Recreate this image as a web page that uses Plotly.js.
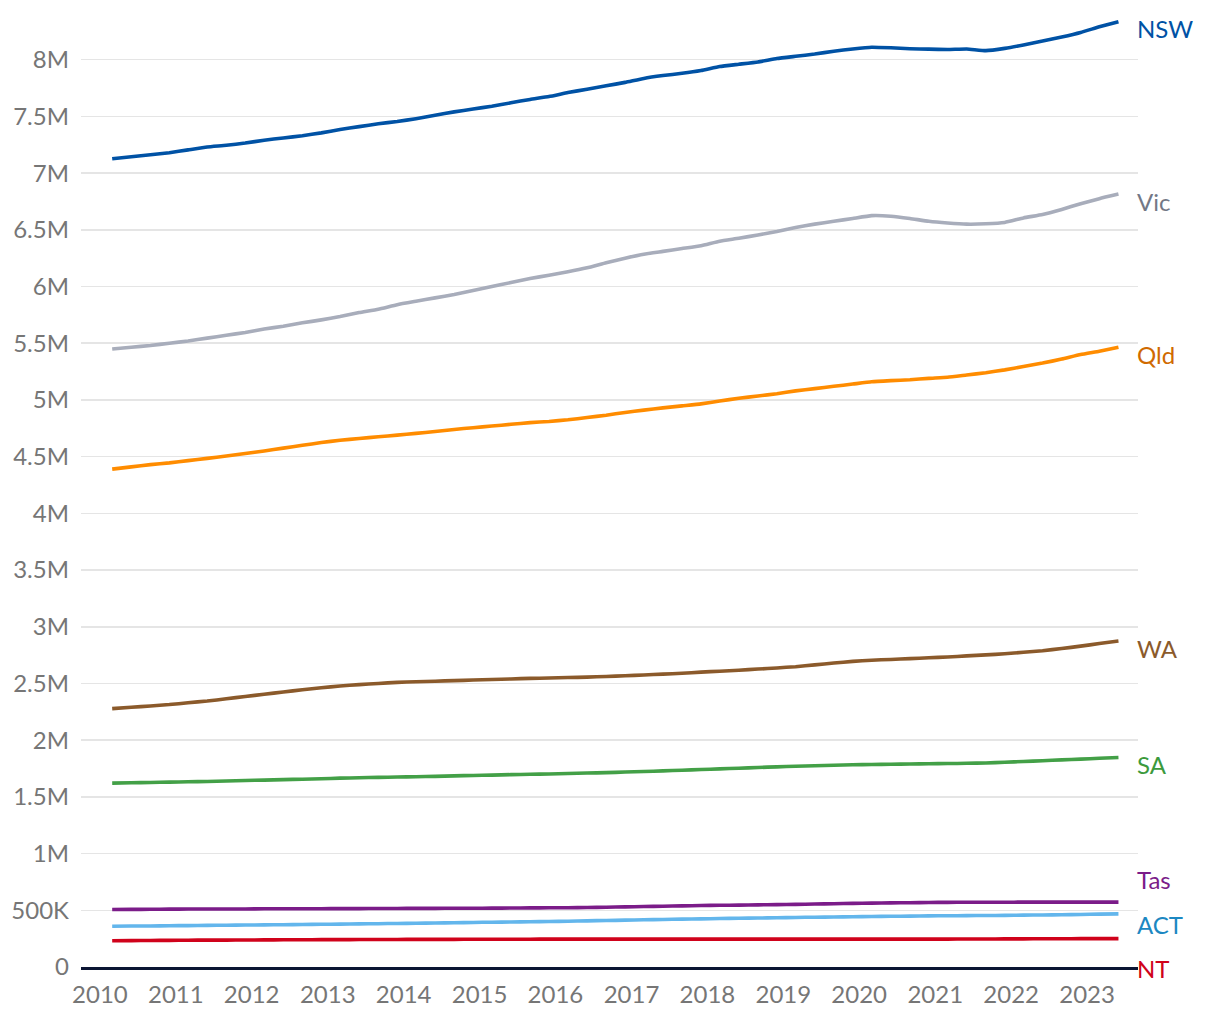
<!DOCTYPE html>
<html>
<head>
<meta charset="utf-8">
<script src="https://cdn.plot.ly/plotly-3.0.1.min.js"></script>
<style>html,body{margin:0;padding:0;background:#fff;}#chart{width:1220px;height:1020px;}</style>
</head>
<body>
<div id="chart"></div>
<script>
// Quarterly periods: Mar 2010 .. Jun 2023
var years = [2010,2011,2012,2013,2014,2015,2016,2017,2018,2019,2020,2021,2022,2023];
var quarterMonths = ['03','06','09','12'];

// Population, millions
var NSW = [7.127,7.145,7.162,7.180,7.205,7.230,7.245,7.265,7.290,7.310,7.330,7.355,7.385,7.410,7.435,7.455,7.480,7.510,7.540,7.565,7.590,7.620,7.650,7.675,7.710,7.740,7.770,7.800,7.835,7.860,7.880,7.905,7.940,7.960,7.980,8.010,8.030,8.050,8.075,8.095,8.110,8.105,8.097,8.093,8.090,8.095,8.080,8.100,8.130,8.165,8.200,8.240,8.290,8.335];
var Vic = [5.449,5.465,5.480,5.500,5.520,5.545,5.570,5.595,5.625,5.650,5.680,5.706,5.735,5.770,5.800,5.840,5.870,5.900,5.930,5.965,6.000,6.035,6.070,6.100,6.130,6.165,6.210,6.250,6.285,6.310,6.335,6.360,6.400,6.425,6.455,6.485,6.520,6.550,6.575,6.600,6.625,6.620,6.600,6.575,6.560,6.550,6.553,6.565,6.605,6.635,6.680,6.730,6.775,6.815];
var Qld = [4.390,4.410,4.430,4.445,4.465,4.485,4.505,4.527,4.550,4.575,4.600,4.624,4.645,4.660,4.675,4.690,4.705,4.722,4.740,4.755,4.770,4.785,4.800,4.810,4.825,4.845,4.865,4.890,4.910,4.930,4.948,4.965,4.990,5.015,5.035,5.055,5.080,5.100,5.120,5.140,5.160,5.170,5.178,5.190,5.200,5.220,5.240,5.265,5.295,5.325,5.360,5.400,5.430,5.465];
var WA = [2.278,2.290,2.302,2.314,2.330,2.345,2.365,2.385,2.405,2.425,2.445,2.462,2.478,2.490,2.500,2.510,2.515,2.520,2.525,2.530,2.535,2.540,2.545,2.548,2.552,2.556,2.562,2.568,2.575,2.582,2.590,2.600,2.608,2.617,2.627,2.637,2.648,2.664,2.680,2.695,2.705,2.712,2.719,2.727,2.734,2.743,2.752,2.762,2.775,2.789,2.808,2.829,2.852,2.874];
var SA = [1.621,1.624,1.627,1.630,1.633,1.636,1.640,1.644,1.648,1.652,1.656,1.660,1.665,1.669,1.672,1.675,1.678,1.681,1.685,1.689,1.692,1.696,1.699,1.702,1.706,1.710,1.714,1.719,1.724,1.729,1.735,1.741,1.747,1.753,1.759,1.765,1.770,1.775,1.779,1.783,1.786,1.788,1.790,1.792,1.794,1.796,1.799,1.805,1.812,1.819,1.826,1.833,1.840,1.847];
var Tas = [0.507,0.508,0.509,0.510,0.511,0.511,0.512,0.512,0.513,0.513,0.514,0.514,0.515,0.515,0.516,0.516,0.517,0.517,0.518,0.518,0.519,0.520,0.521,0.522,0.523,0.525,0.527,0.530,0.533,0.536,0.539,0.542,0.544,0.546,0.548,0.550,0.552,0.555,0.558,0.561,0.563,0.565,0.567,0.569,0.570,0.571,0.571,0.571,0.572,0.572,0.572,0.572,0.572,0.572];
var ACT = [0.359,0.361,0.362,0.364,0.365,0.367,0.368,0.370,0.371,0.373,0.375,0.377,0.378,0.380,0.382,0.384,0.386,0.388,0.390,0.393,0.395,0.397,0.399,0.401,0.404,0.407,0.410,0.413,0.416,0.419,0.422,0.424,0.427,0.430,0.432,0.434,0.437,0.439,0.441,0.443,0.445,0.447,0.449,0.451,0.452,0.453,0.454,0.455,0.457,0.459,0.461,0.463,0.466,0.468];
var NT = [0.232,0.233,0.234,0.235,0.236,0.237,0.237,0.238,0.239,0.240,0.240,0.241,0.241,0.242,0.243,0.243,0.244,0.244,0.244,0.245,0.245,0.245,0.245,0.246,0.246,0.246,0.246,0.246,0.246,0.246,0.246,0.246,0.246,0.246,0.246,0.246,0.246,0.246,0.246,0.246,0.246,0.246,0.246,0.246,0.246,0.247,0.247,0.248,0.248,0.249,0.249,0.250,0.250,0.250];

var yTickVals = [0,0.5,1,1.5,2,2.5,3,3.5,4,4.5,5,5.5,6,6.5,7,7.5,8];
var yTickText = ['0','500K','1M','1.5M','2M','2.5M','3M','3.5M','4M','4.5M','5M','5.5M','6M','6.5M','7M','7.5M','8M'];
var xTickVals = ['2010-01-01','2011-01-01','2012-01-01','2013-01-01','2014-01-01','2015-01-01','2016-01-01','2017-01-01','2018-01-01','2019-01-01','2020-01-01','2021-01-01','2022-01-01','2023-01-01'];
var xTickText = ['2010','2011','2012','2013','2014','2015','2016','2017','2018','2019','2020','2021','2022','2023'];

var dates = [];
years.forEach(function(y){ quarterMonths.forEach(function(m){ dates.push(y + '-' + m + '-01'); }); });
dates = dates.slice(0, NSW.length);

var series = [
  {name:'NSW', y:NSW, line:'#0052a5', label:'#0052a5', shift:-7},
  {name:'Vic', y:Vic, line:'#a8adbb', label:'#737886', shift:-7},
  {name:'Qld', y:Qld, line:'#ff8c00', label:'#d06a00', shift:-7},
  {name:'WA',  y:WA,  line:'#8b5a2b', label:'#8b5a2b', shift:-7},
  {name:'SA',  y:SA,  line:'#43a047', label:'#3c9a3c', shift:-7},
  {name:'Tas', y:Tas, line:'#7b1c89', label:'#7b1c89', shift:23},
  {name:'ACT', y:ACT, line:'#63b6ec', label:'#1c88c2', shift:-11},
  {name:'NT',  y:NT,  line:'#d0021b', label:'#d0021b', shift:-30}
];

var font = '"Lato", "Noto Sans", sans-serif';
var traces = series.map(function(s){
  return {x:dates, y:s.y, type:'scatter', mode:'lines', name:s.name,
          line:{color:s.line, width:3.6, shape:'spline', smoothing:0.4}, hoverinfo:'skip'};
});
var annotations = series.map(function(s){
  return {x:dates[dates.length-1], y:s.y[s.y.length-1], xref:'x', yref:'y',
          text:s.name, showarrow:false, xanchor:'left', yanchor:'middle',
          xshift:17, yshift:s.shift, font:{family:font, size:24, color:s.label}};
});

var layout = {
  width:1220, height:1020,
  margin:{l:81, r:82, t:3, b:53},
  paper_bgcolor:'#ffffff', plot_bgcolor:'#ffffff',
  showlegend:false,
  font:{family:font, size:24, color:'#767676'},
  xaxis:{type:'date', range:['2009-10-02','2023-09-03'], tickvals:xTickVals, ticktext:xTickText,
         showgrid:false, zeroline:false, showline:true, linecolor:'#0b1533', linewidth:3,
         ticks:'', ticklabelstandoff:4, tickfont:{family:font, size:24, color:'#767676'}},
  yaxis:{range:[0,8.5], tickvals:yTickVals, ticktext:yTickText, showgrid:true,
         gridcolor:'#e5e5e5', gridwidth:1.5, zeroline:false, showline:false, ticks:'',
         ticklabelstandoff:11, tickfont:{family:font, size:24, color:'#767676'}},
  annotations:annotations,
  hovermode:false
};

Plotly.newPlot('chart', traces, layout, {displayModeBar:false, staticPlot:true});
</script>
</body>
</html>
